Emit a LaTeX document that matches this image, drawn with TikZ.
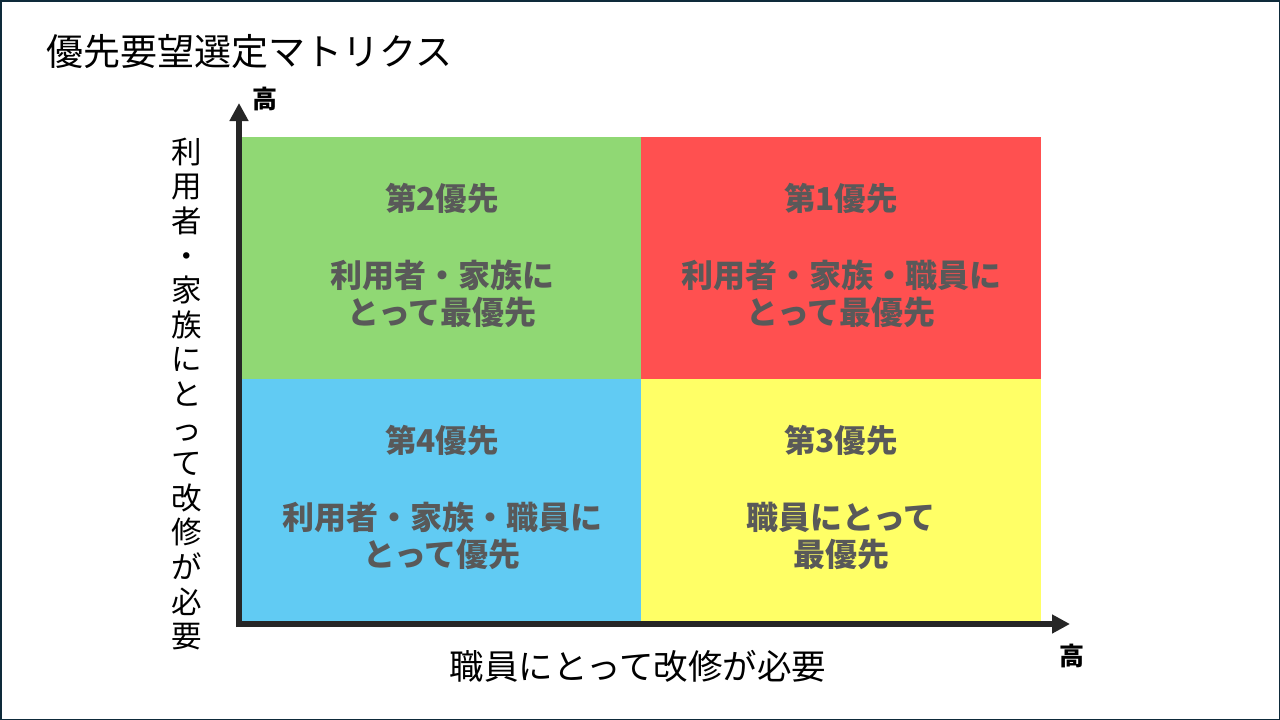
\documentclass[tikz,border=0pt]{standalone}
\usepackage{fontspec}
\setmainfont{Noto Sans CJK JP}
\usetikzlibrary{arrows.meta}
\definecolor{qgreen}{HTML}{90D874}
\definecolor{qred}{HTML}{FF5050}
\definecolor{qblue}{HTML}{61CBF3}
\definecolor{qyellow}{HTML}{FFFF66}
\definecolor{axisc}{HTML}{262626}
\definecolor{qtext}{HTML}{595959}
\definecolor{framec}{HTML}{0E2A3A}
\tikzset{
  quad/.style={draw=none, inner sep=0pt, minimum width=399.5pt, minimum height=241.5pt},
  qhead/.style={text=qtext, font=\fontsize{31.5}{36}\selectfont\bfseries, inner sep=0pt},
  qbody/.style={text=qtext, font=\fontsize{32}{37}\selectfont\bfseries, align=center, inner sep=0pt},
  axisline/.style={draw=axisc, line width=6pt, -{Triangle[length=18pt,width=18pt]}},
  hilabel/.style={font=\fontsize{25}{28}\selectfont\bfseries, inner sep=0pt},
  axlabel/.style={font=\fontsize{34.5}{38}\selectfont, inner sep=0pt},
}
\begin{document}
\begin{tikzpicture}[x=1pt,y=-1pt]
\useasboundingbox (0,0) rectangle (1280,720);
\fill[white] (0,0) rectangle (1280,720);
% quadrants
\node[quad, fill=qgreen, anchor=north west] (q2) at (241,137) {};
\node[quad, fill=qred, anchor=north west] (q1) at (641,137) {};
\node[quad, fill=qblue, anchor=north west] (q4) at (241,379) {};
\node[quad, fill=qyellow, anchor=north west] (q3) at (641,379) {};
% quadrant texts
\node[qhead] (h2) at (442,198) {第2優先};
\node[qbody] (b2) at (442,294) {利用者・家族に\\とって最優先};
\node[qhead] (h1) at (841,198) {第1優先};
\node[qbody] (b1) at (841,294) {利用者・家族・職員に\\とって最優先};
\node[qhead] (h4) at (442,440) {第4優先};
\node[qbody] (b4) at (442,536) {利用者・家族・職員に\\とって優先};
\node[qhead] (h3) at (841,440) {第3優先};
\node[qbody] (b3) at (841,536) {職員にとって\\最優先};
% axes
\coordinate (yorig) at (239,627);
\coordinate (ytip) at (239,103);
\coordinate (xorig) at (236,624);
\coordinate (xtip) at (1070,624);
\draw[axisline] (yorig) -- (ytip);
\draw[axisline] (xorig) -- (xtip);
% labels
\node[hilabel] (hy) at (265,99) {高};
\node[hilabel] (hx) at (1072,656) {高};
\node[font=\fontsize{37}{40}\selectfont, anchor=west, inner sep=0pt] (title) at (46,52) {優先要望選定マトリクス};
\node[axlabel] (xl) at (638,666) {職員にとって改修が必要};
\node[font=\fontsize{30.5}{34.6}\selectfont, align=center, inner sep=0pt] (yl) at (187,394)
  {利\\用\\者\\・\\家\\族\\に\\と\\っ\\て\\改\\修\\が\\必\\要};
% frame
\draw[framec, line width=1.5pt] (0.75,0.75) rectangle (1279.25,719.25);
\end{tikzpicture}
\end{document}
